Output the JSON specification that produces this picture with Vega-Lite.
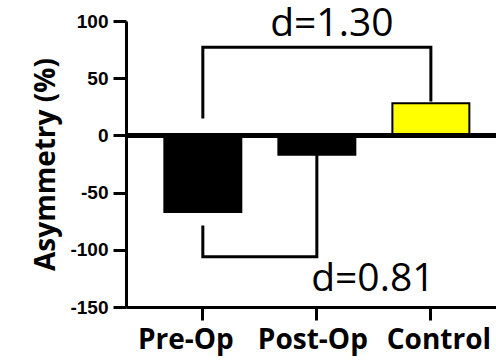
{
  "$schema": "https://vega.github.io/schema/vega-lite/v6.json",
  "width": 370,
  "height": 286,
  "autosize": {"type": "none"},
  "padding": {"left": 126, "top": 21, "right": 0, "bottom": 54},
  "background": "white",
  "config": {"view": {"stroke": null}},
  "datasets": {
    "bars": [
      {"group": "Pre-Op", "value": -67},
      {"group": "Post-Op", "value": -17},
      {"group": "Control", "value": 28}
    ],
    "brackets": [
      {"bracket": "top", "order": 1, "group": "Pre-Op", "y": 16},
      {"bracket": "top", "order": 2, "group": "Pre-Op", "y": 77},
      {"bracket": "top", "order": 3, "group": "Control", "y": 77},
      {"bracket": "top", "order": 4, "group": "Control", "y": 31},
      {"bracket": "bottom", "order": 1, "group": "Pre-Op", "y": -80},
      {"bracket": "bottom", "order": 2, "group": "Pre-Op", "y": -106},
      {"bracket": "bottom", "order": 3, "group": "Post-Op", "y": -106},
      {"bracket": "bottom", "order": 4, "group": "Post-Op", "y": -18}
    ],
    "labelTop": [{"text": "d=1.30", "group": "Post-Op", "y": 87}],
    "labelBottom": [{"text": "d=0.81", "group": "Post-Op", "y": -136}]
  },
  "encoding": {
    "x": {
      "field": "group",
      "type": "nominal",
      "sort": ["Pre-Op", "Post-Op", "Control"],
      "scale": {"domain": ["Pre-Op", "Post-Op", "Control"], "paddingInner": 0.325, "paddingOuter": 0.285, "align": 0.59},
      "axis": {
        "title": null,
        "labelAngle": 0,
        "labelFont": "Open Sans",
        "labelFontWeight": "bold",
        "labelFontSize": 28,
        "labelColor": "black",
        "labelPadding": 6,
        "labelOffset": {"condition": [{"test": "datum.value === 'Pre-Op'", "value": -17}, {"test": "datum.value === 'Control'", "value": 8}], "value": -4},
        "tickSize": 13,
        "tickWidth": 3,
        "tickColor": "black",
        "domainColor": "black",
        "domainWidth": 3,
        "grid": false
      }
    }
  },
  "layer": [
    {
      "data": {"name": "bars"},
      "mark": {"type": "bar", "stroke": "black", "strokeWidth": 2},
      "encoding": {
        "y": {
          "field": "value",
          "type": "quantitative",
          "scale": {"domain": [-150, 100], "nice": false, "zero": false},
          "axis": {
            "title": "Asymmetry (%)",
            "titleFont": "Open Sans",
            "titleFontWeight": "bold",
            "titleFontSize": 28,
            "titleColor": "black",
            "titleX": -72,
            "titleBaseline": "alphabetic",
            "values": [100, 50, 0, -50, -100, -150],
            "labelExpr": "datum.value < 0 ? '-' + abs(datum.value) : '' + datum.value",
            "labelFont": "Liberation Sans",
            "labelFontWeight": "bold",
            "labelFontSize": 19,
            "labelColor": "black",
            "labelPadding": 5,
            "tickSize": 13,
            "tickWidth": 3,
            "tickColor": "black",
            "domainColor": "black",
            "domainWidth": 3,
            "grid": false
          }
        },
        "color": {
          "field": "group",
          "type": "nominal",
          "scale": {"domain": ["Pre-Op", "Post-Op", "Control"], "range": ["#000000", "#000000", "#FFFF00"]},
          "legend": null
        }
      }
    },
    {
      "data": {"values": [{"zero": 0}]},
      "mark": {"type": "rule", "color": "black", "strokeWidth": 5},
      "encoding": {
        "x": null,
        "y": {"field": "zero", "type": "quantitative"}
      }
    },
    {
      "data": {"name": "brackets"},
      "mark": {"type": "line", "color": "black", "strokeWidth": 3, "strokeCap": "square"},
      "encoding": {
        "y": {"field": "y", "type": "quantitative"},
        "detail": {"field": "bracket"},
        "order": {"field": "order", "type": "quantitative"}
      }
    },
    {
      "data": {"name": "labelTop"},
      "mark": {"type": "text", "font": "Open Sans", "fontSize": 39, "color": "black", "align": "center", "baseline": "alphabetic", "dx": 15},
      "encoding": {
        "y": {"field": "y", "type": "quantitative"},
        "text": {"field": "text"}
      }
    },
    {
      "data": {"name": "labelBottom"},
      "mark": {"type": "text", "font": "Open Sans", "fontSize": 39, "color": "black", "align": "center", "baseline": "alphabetic", "dx": 56},
      "encoding": {
        "y": {"field": "y", "type": "quantitative"},
        "text": {"field": "text"}
      }
    }
  ]
}
